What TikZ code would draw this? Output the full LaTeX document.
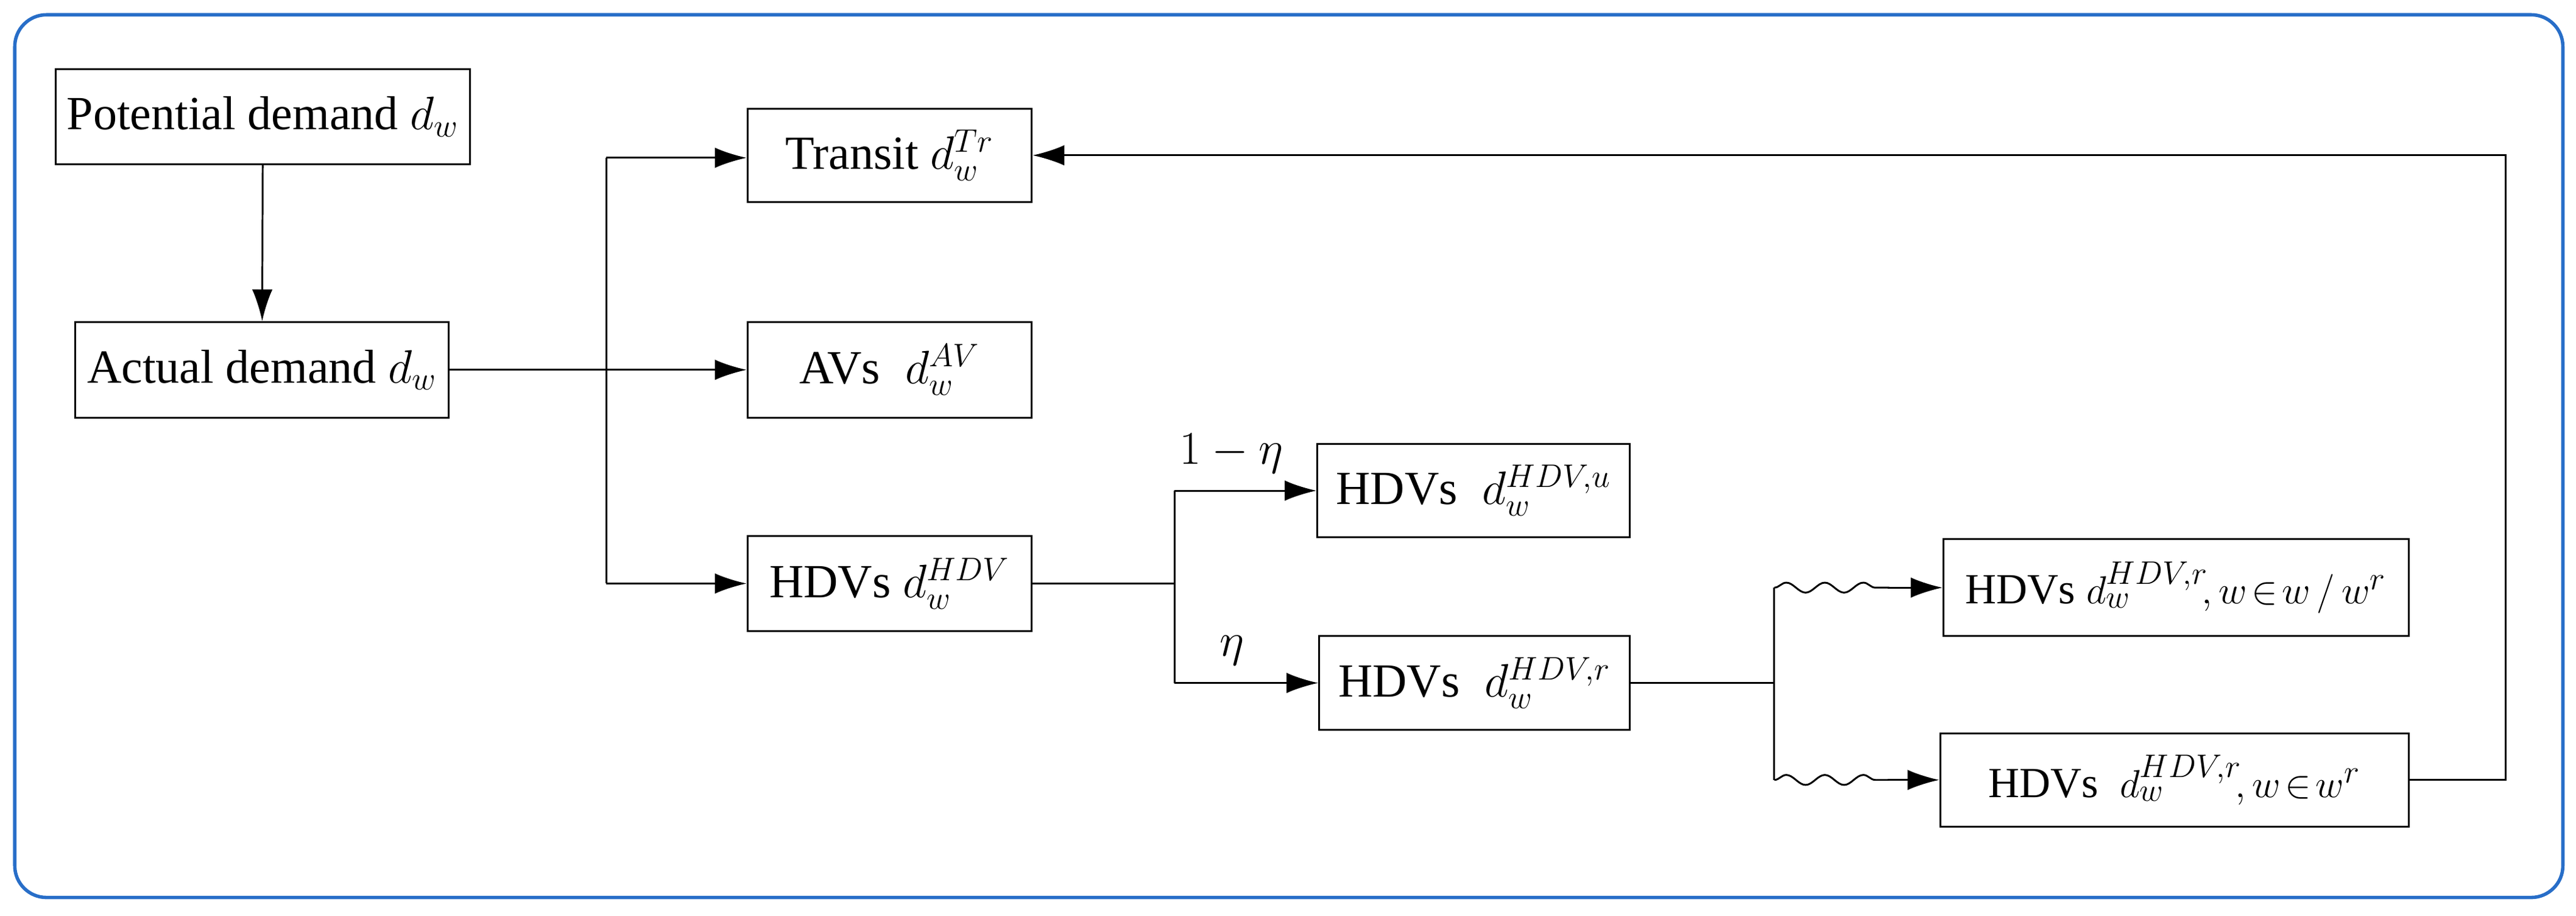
\documentclass[tikz,border=0pt]{standalone}
\usepackage{fontspec}
\setmainfont{Liberation Serif}
\usetikzlibrary{arrows.meta,decorations.pathmorphing}
\begin{document}
\begin{tikzpicture}[x=0.0255cm,y=-0.0255cm,
  box/.style={draw,line width=0.8pt,inner sep=0pt,font=\fontsize{21}{24}\selectfont},
  arr/.style={-{Latex[length=14pt,width=9pt]},line width=0.8pt},
  ln/.style={line width=0.8pt},
  wav/.style={line width=0.8pt,decorate,decoration={snake,amplitude=2.2pt,segment length=17pt,post length=0pt}}]
\useasboundingbox (0,0) rectangle (1568,557);
\draw[draw={rgb,255:red,40;green,110;blue,200},line width=1.5pt,rounded corners=14pt] (9,9) rectangle (1560,546);
\node[box] (pot) at (160,71) [minimum width=6.43cm,minimum height=1.48cm] {Potential demand $d_w$};
\node[box] (act) at (159.5,225) [minimum width=5.79cm,minimum height=1.48cm] {Actual demand $d_w$};
\node[box] (tr) at (541.5,94.5) [minimum width=4.41cm,minimum height=1.45cm] {Transit $d_w^{Tr}$};
\node[box] (av) at (541.5,225) [minimum width=4.41cm,minimum height=1.48cm] {AVs $\;d_w^{AV}$};
\node[box] (hdv) at (541.5,355) [minimum width=4.41cm,minimum height=1.48cm] {HDVs $d_w^{HDV}$};
\node[box] (hu) at (897,298.5) [minimum width=4.85cm,minimum height=1.45cm] {HDVs $\;d_w^{HDV,u}$};
\node[box] (hr) at (897.5,415.5) [minimum width=4.82cm,minimum height=1.45cm] {HDVs $\;d_w^{HDV,r}$};
\node[box,font=\fontsize{19}{22}\selectfont] (r1) at (1324.5,357.5) [minimum width=7.22cm,minimum height=1.5cm] {HDVs $d_w^{HDV,r}\!, w\!\in\! w\,/\,w^{r}$};
\node[box,font=\fontsize{19}{22}\selectfont] (r2) at (1323.5,474.5) [minimum width=7.27cm,minimum height=1.45cm] {HDVs $\;d_w^{HDV,r}\!, w\!\in\! w^{r}$};
\draw[arr] (pot) -- (act);
\draw[arr] (act) -- (av);
\draw[arr] (369,96) -- (tr.west |- 0,96);
\draw[ln] (369,96) -- (369,355);
\draw[arr] (369,355) -- (hdv);
\coordinate (b2) at (715,355);
\draw[ln] (hdv) -- (b2);
\draw[ln] (715,298.5) -- (715,415.5);
\draw[arr] (715,298.5) -- (hu) node[pos=0.4,above=4pt,font=\fontsize{21}{24}\selectfont] {$1-\eta$};
\draw[arr] (715,415.5) -- (hr) node[pos=0.4,above=4pt,font=\fontsize{21}{24}\selectfont] {$\eta$};
\coordinate (b3) at (1080,415.5);
\draw[ln] (hr) -- (b3);
\draw[ln] (1080,357.5) -- (1080,474.5);
\draw[wav] (1080,357.5) -- (1150,357.5);
\draw[arr] (1149,357.5) -- (r1);
\draw[wav] (1080,474.5) -- (1150,474.5);
\draw[arr] (1149,474.5) -- (r2);
\draw[arr] (r2.east) -- (1525,474.5) -- (1525,94.5) -- (tr.east);
\end{tikzpicture}
\end{document}
